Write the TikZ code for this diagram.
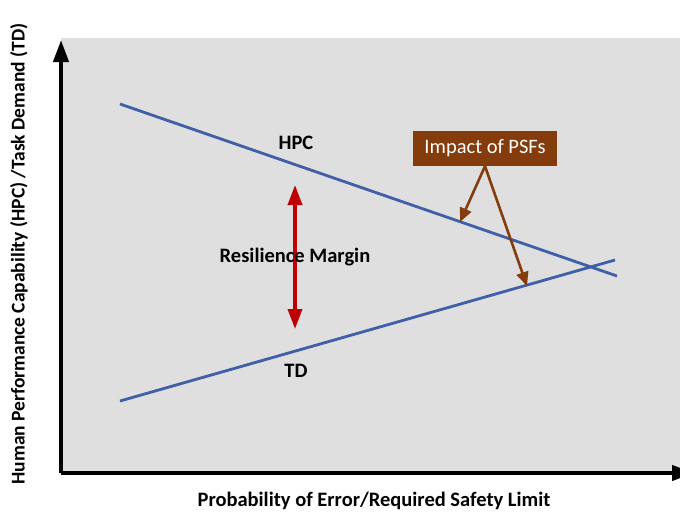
\documentclass[tikz,border=0pt]{standalone}
\usepackage{fontspec}
\setmainfont{Carlito}
\usetikzlibrary{arrows.meta}
\definecolor{panelgray}{HTML}{DFDFDF}
\definecolor{lineblue}{HTML}{3F5FA8}
\definecolor{marginred}{HTML}{C00000}
\definecolor{psfbrown}{HTML}{843C0C}

\begin{document}
\begin{tikzpicture}[x=1pt, y=-1pt,
		lbl/.style={font=\fontsize{20.5}{24}\selectfont\bfseries, inner sep=1pt},
		curve/.style={line width=2.8pt, lineblue},
		axis/.style={line width=4pt, -{Triangle[length=22pt, width=15pt]}},
		psfarrow/.style={line width=2.6pt, psfbrown, -{Triangle[length=14pt, width=12pt]}}]
		\useasboundingbox (0,0) rectangle (680,512);
		\fill [panelgray] (61,38) rectangle (680,473);
		% axes
		\coordinate (origin) at (61,473);
		\coordinate (ytop) at (61,40);
		\coordinate (xend) at (694,473);
		\draw [axis] (origin) -- (ytop);
		\draw [axis] (origin) -- (xend);
		\node [lbl] (xlabel) at (374,501) {Probability of Error/Required Safety Limit};
		\node [lbl, font=\fontsize{19.5}{23}\selectfont\bfseries, rotate=90] (ylabel) at (19,254) {Human Performance Capability (HPC) /Task Demand (TD)};
		% HPC and TD lines
		\coordinate (hpcstart) at (120,104);
		\coordinate (hpcend) at (617,276);
		\coordinate (tdstart) at (120,401);
		\coordinate (tdend) at (615,260);
		\draw [curve] (hpcstart) -- (hpcend);
		\draw [curve] (tdstart) -- (tdend);
		\node [lbl] (hpc) at (296,143) {HPC};
		\node [lbl] (td) at (296,371) {TD};
		% resilience margin
		\coordinate (margintop) at (295,185);
		\coordinate (marginbot) at (295,329);
		\draw [line width=3.6pt, marginred, {Triangle[length=20pt, width=14pt]}-{Triangle[length=20pt, width=14pt]}] (margintop) -- (marginbot);
		\node [lbl] (margin) at (295,257) {Resilience Margin};
		% impact of PSFs
		\node [fill=psfbrown, text=white, minimum width=144pt, minimum height=35pt, font=\fontsize{20.5}{24}\selectfont] (psf) at (485,148.5) {Impact of PSFs};
		\coordinate (onhpc) at (460,222);
		\coordinate (ontd) at (527,286);
		\draw [psfarrow] (psf.south) -- (onhpc);
		\draw [psfarrow] (psf.south) -- (ontd);
	\end{tikzpicture}
\end{document}
